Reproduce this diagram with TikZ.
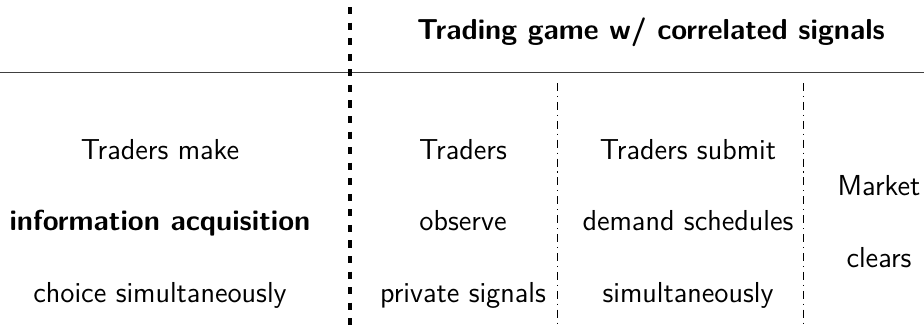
\documentclass[tikz,border=0pt]{standalone}
\usepackage{tikz}
\begin{document}
\begin{tikzpicture}[x=0.45pt,y=-0.45pt,
  txt/.style={anchor=base,inner sep=0pt,font=\fontsize{13}{15}\selectfont\sffamily},
  btxt/.style={txt,font=\fontsize{13}{15}\selectfont\sffamily\bfseries},
  thickdash/.style={line width=1.5pt,dash pattern=on 3.2pt off 3.8pt,dash phase=-3.2pt},
  dashdot/.style={line width=0.4pt,dash pattern=on 3.6pt off 2.2pt on 0.5pt off 2.2pt},
  rule/.style={line width=0.8pt,black!75}]
\useasboundingbox (0,0) rectangle (924,327);
% separators
\coordinate (dT) at (350,0);
\coordinate (dB) at (350,327);
\coordinate (hL) at (0,72.5);
\coordinate (hR) at (924,72.5);
\coordinate (aT) at (557,83);
\coordinate (aB) at (557,327);
\coordinate (bT) at (803,83);
\coordinate (bB) at (803,327);
\draw[rule] (hL) -- (hR);
\draw[thickdash] (dT) -- (dB);
\draw[dashdot] (aT) -- (aB);
\draw[dashdot] (bT) -- (bB);
% title
\node[btxt] (title) at (651,39) {Trading game w/ correlated signals};
% column 1
\node[txt] (c1a) at (160,159) {Traders make};
\node[btxt] (c1b) at (160,230) {information acquisition};
\node[txt] (c1c) at (160,302) {choice simultaneously};
% column 2
\node[txt] (c2a) at (463,159) {Traders};
\node[txt] (c2b) at (463,230) {observe};
\node[txt] (c2c) at (463,302) {private signals};
% column 3
\node[txt] (c3a) at (688,159) {Traders submit};
\node[txt] (c3b) at (688,230) {demand schedules};
\node[txt] (c3c) at (688,302) {simultaneously};
% column 4
\node[txt] (c4a) at (879,195) {Market};
\node[txt] (c4b) at (879,267) {clears};
\end{tikzpicture}
\end{document}
